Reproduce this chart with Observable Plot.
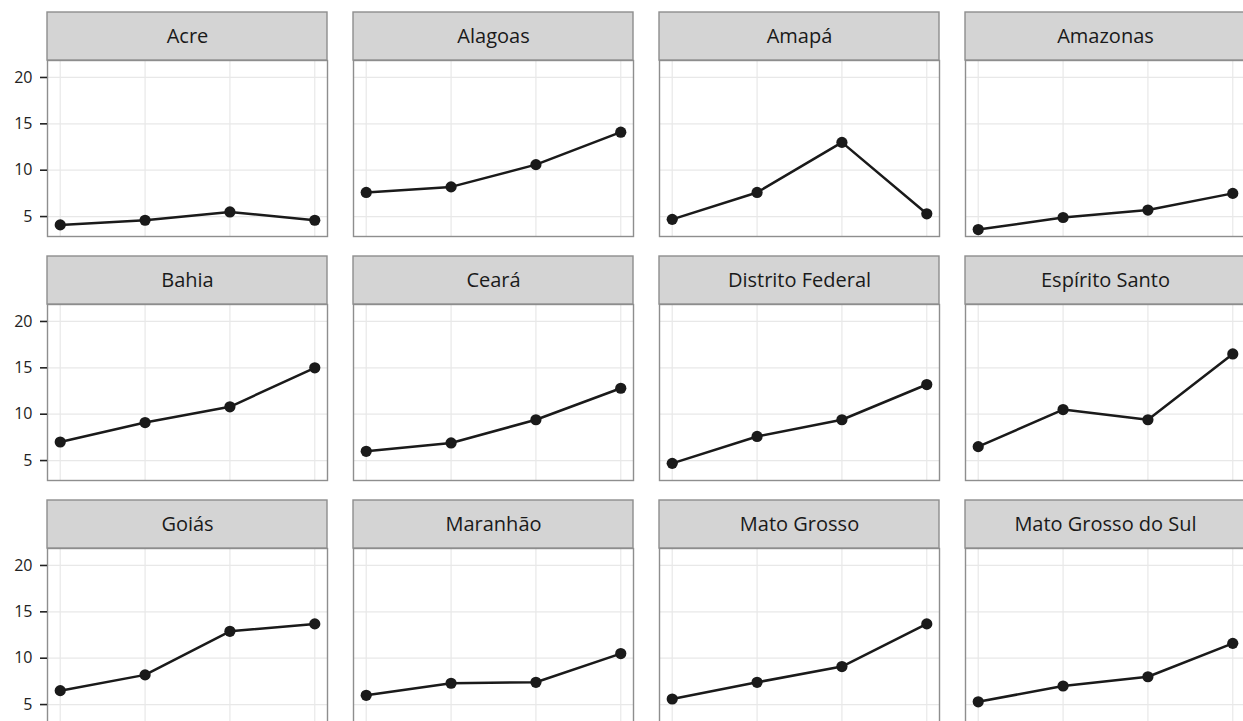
<!DOCTYPE html>
<html>
<head>
<meta charset="utf-8">
<script src="https://cdn.jsdelivr.net/npm/d3@7"></script>
<script src="https://cdn.jsdelivr.net/npm/@observablehq/plot@0.6"></script>
<style>
  html, body { margin: 0; padding: 0; background: #fff; overflow: hidden; }
  #chart svg { max-width: none !important; display: block; }
</style>
</head>
<body>
<div id="chart"></div>
<script>
// States shown in the small-multiples grid, in reading order (4 per row)
const states = [
  "Acre", "Alagoas", "Amapá", "Amazonas",
  "Bahia", "Ceará", "Distrito Federal", "Espírito Santo",
  "Goiás", "Maranhão", "Mato Grosso", "Mato Grosso do Sul"
];

// Four observation periods along the x axis
const periods = [1, 2, 3, 4];

// One series per state, same order as `states`
const acre            = [4.1, 4.6, 5.5, 4.6];
const alagoas         = [7.6, 8.2, 10.6, 14.1];
const amapa           = [4.7, 7.6, 13.0, 5.3];
const amazonas        = [3.6, 4.9, 5.7, 7.5];
const bahia           = [7.0, 9.1, 10.8, 15.0];
const ceara           = [6.0, 6.9, 9.4, 12.8];
const distritoFederal = [4.7, 7.6, 9.4, 13.2];
const espiritoSanto   = [6.5, 10.5, 9.4, 16.5];
const goias           = [6.5, 8.2, 12.9, 13.7];
const maranhao        = [6.0, 7.3, 7.4, 10.5];
const matoGrosso      = [5.6, 7.4, 9.1, 13.7];
const matoGrossoSul   = [5.3, 7.0, 8.0, 11.6];

const series = [
  acre, alagoas, amapa, amazonas,
  bahia, ceara, distritoFederal, espiritoSanto,
  goias, maranhao, matoGrosso, matoGrossoSul
];

// Y axis ticks
const yTicks = [5, 10, 15, 20];

const nCols = 4;
const nRows = 3;
const xDomain = [0.85, 4.15];
const yDomain = [2.85, 21.83];

// Long-format tables built from the arrays above
const panels = states.map((state, i) => ({state, col: i % nCols, row: Math.floor(i / nCols)}));
const rows = panels.flatMap((p, i) =>
  periods.map((period, j) => ({...p, period, value: series[i][j]}))
);
// tick labels live in the left column of every row
const yLabels = d3.range(nRows).flatMap(row => yTicks.map(value => ({col: 0, row, value})));

const ink = "#1a1a1a";

const chart = Plot.plot({
  width: 1246,
  height: 730,
  marginLeft: 46,
  marginRight: 1,
  marginTop: 59,
  marginBottom: 6,
  style: {fontFamily: "'Open Sans', 'Noto Sans', sans-serif", background: "#fff"},
  x: {domain: xDomain, axis: null},
  y: {domain: yDomain, label: null},
  fx: {domain: d3.range(nCols), axis: null, paddingInner: 0.086, paddingOuter: 0},
  fy: {domain: d3.range(nRows), axis: null, paddingInner: 0.28, paddingOuter: 0},
  marks: [
    // panel grid
    Plot.gridY(yTicks, {stroke: "#e8e8e8", strokeOpacity: 1, strokeWidth: 1.2}),
    Plot.gridX(periods, {stroke: "#e8e8e8", strokeOpacity: 1, strokeWidth: 1.2}),
    // panel border
    Plot.frame({stroke: "#8e8e8e", strokeWidth: 1.4}),
    // facet strip above each panel
    Plot.rect(panels, {
      fx: "col", fy: "row",
      y1: yDomain[1], y2: yDomain[1],
      insetTop: -48,
      fill: "#d4d4d4", stroke: "#8e8e8e", strokeWidth: 1.4
    }),
    Plot.text(panels, {
      fx: "col", fy: "row", text: "state",
      frameAnchor: "top", dy: -24, lineAnchor: "middle",
      fontSize: 20, fill: ink
    }),
    // y axis tick marks (left column only)
    Plot.axisY({
      ticks: yTicks, tickSize: 7, tickFormat: () => "",
      stroke: "#222", strokeWidth: 1.6, label: null
    }),
    // y axis tick labels
    Plot.text(yLabels, {
      fx: "col", fy: "row", y: "value", text: d => String(d.value),
      frameAnchor: "left", dx: -15, textAnchor: "end",
      fontSize: 16, fill: "#222"
    }),
    // series
    Plot.line(rows, {fx: "col", fy: "row", x: "period", y: "value", z: "state", stroke: ink, strokeWidth: 2.5}),
    Plot.dot(rows, {fx: "col", fy: "row", x: "period", y: "value", r: 5.6, fill: ink, stroke: "none"})
  ]
});

document.getElementById("chart").appendChild(chart);
</script>
</body>
</html>
